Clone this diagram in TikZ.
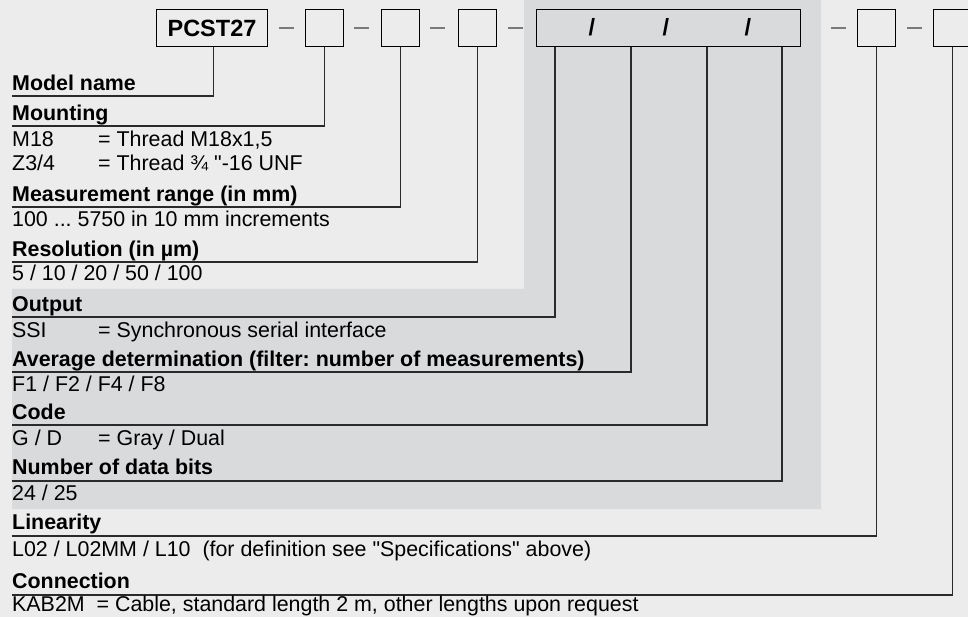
\documentclass[tikz,border=0pt]{standalone}
\usepackage{fontspec}
\setmainfont{Liberation Sans}[Ligatures=TeXOff]
\frenchspacing
\definecolor{bglight}{HTML}{ECECEC}
\definecolor{bgdark}{HTML}{D9DADC}
\definecolor{ln}{HTML}{2A2A2A}
\definecolor{dashc}{HTML}{7A7A7A}
\begin{document}
\begin{tikzpicture}[x=1pt,y=-1pt,
  box/.style={draw=black, line width=1pt, minimum width=38pt, minimum height=37pt, inner sep=0pt, anchor=north west, fill=bglight},
  conn/.style={draw=ln, line width=1.1pt},
  hd/.style={anchor=base west, inner sep=0pt, font=\fontsize{21.4}{23}\selectfont\bfseries\frenchspacing},
  val/.style={anchor=base west, inner sep=0pt, font=\fontsize{21.4}{23}\selectfont\frenchspacing},
  big/.style={inner sep=0pt, font=\fontsize{23.5}{26}\selectfont\bfseries},
  dsh/.style={draw=dashc, line width=2pt}]
\clip (0,0) rectangle (968,617);
\fill[bglight] (0,0) rectangle (968,617);
\fill[bgdark] (524,0) -- (821,0) -- (821,509) -- (12,509) -- (12,289) -- (524,289) -- cycle;

% code boxes
\node[box, minimum width=111pt, big] (b1) at (156,9) {PCST27};
\node[box] (b2) at (305,9) {};
\node[box] (b3) at (381,9) {};
\node[box] (b4) at (458,9) {};
\node[box, minimum width=264pt, fill=bgdark] (b5) at (536,9) {};
\node[box] (b6) at (857,9) {};
\node[box] (b7) at (933,9) {};
\node[big] (s1) at (592,27.5) {/};
\node[big] (s2) at (666,27.5) {/};
\node[big] (s3) at (748,27.5) {/};

% separating dashes
\draw[dsh] ([xshift=11pt]b1.east) -- ++(15,0);
\draw[dsh] ([xshift=10pt]b2.east) -- ++(15,0);
\draw[dsh] ([xshift=10pt]b3.east) -- ++(15,0);
\draw[dsh] ([xshift=11pt]b4.east) -- ++(15,0);
\draw[dsh] ([xshift=30pt]b5.east) -- ++(15,0);
\draw[dsh] ([xshift=11pt]b6.east) -- ++(15,0);

% line ends
\coordinate (u1) at (12,96);
\coordinate (u2) at (12,126);
\coordinate (u3) at (12,207);
\coordinate (u4) at (12,262);
\coordinate (u5) at (12,317);
\coordinate (u6) at (12,372);
\coordinate (u7) at (12,425);
\coordinate (u8) at (12,481);
\coordinate (u9) at (12,536);
\coordinate (u10) at (12,595);

\draw[conn] ([xshift=1.5pt]b1.south) |- (u1);
\draw[conn] (b2.south) |- (u2);
\draw[conn] (b3.south) |- (u3);
\draw[conn] (b4.south) |- (u4);
\draw[conn] ([xshift=19pt]b5.south west) |- (u5);
\draw[conn] ([xshift=95pt]b5.south west) |- (u6);
\draw[conn] ([xshift=171pt]b5.south west) |- (u7);
\draw[conn] ([xshift=246pt]b5.south west) |- (u8);
\draw[conn] (b6.south) |- (u9);
\draw[conn] (b7.south) |- (u10);

% texts
\node[hd] (t1) at (12,90.5) {Model name};
\node[hd] (t2) at (12,120.5) {Mounting};
\node[val] (t2a) at (12,146.5) {\makebox[86pt][l]{M18}= Thread M18x1,5};
\node[val] (t2b) at (12,170.5) {\makebox[86pt][l]{Z3/4}= Thread ¾ "-16 UNF};
\node[hd] (t3) at (12,201.5) {Measurement range (in mm)};
\node[val] (t3a) at (12,227) {100 ... 5750 in 10 mm increments};
\node[hd] (t4) at (12,256.5) {Resolution (in µm)};
\node[val] (t4a) at (12,281) {5 / 10 / 20 / 50 / 100};
\node[hd] (t5) at (12,311.5) {Output};
\node[val] (t5a) at (12,337) {\makebox[86pt][l]{SSI}= Synchronous serial interface};
\node[hd] (t6) at (12,366) {Average determination (filter: number of measurements)};
\node[val] (t6a) at (12,391) {F1 / F2 / F4 / F8};
\node[hd] (t7) at (12,419.5) {Code};
\node[val] (t7a) at (12,445) {\makebox[86pt][l]{G / D}= Gray / Dual};
\node[hd] (t8) at (12,474.5) {Number of data bits};
\node[val] (t8a) at (12,500) {24 / 25};
\node[hd] (t9) at (12,529.5) {Linearity};
\node[val] (t9a) at (12,556) {L02 / L02MM / L10\ \ (for definition see "Specifications" above)};
\node[hd] (t10) at (12,588.5) {Connection};
\node[val] (t10a) at (12,611) {KAB2M\ \ = Cable, standard length 2 m, other lengths upon request};
\end{tikzpicture}
\end{document}
